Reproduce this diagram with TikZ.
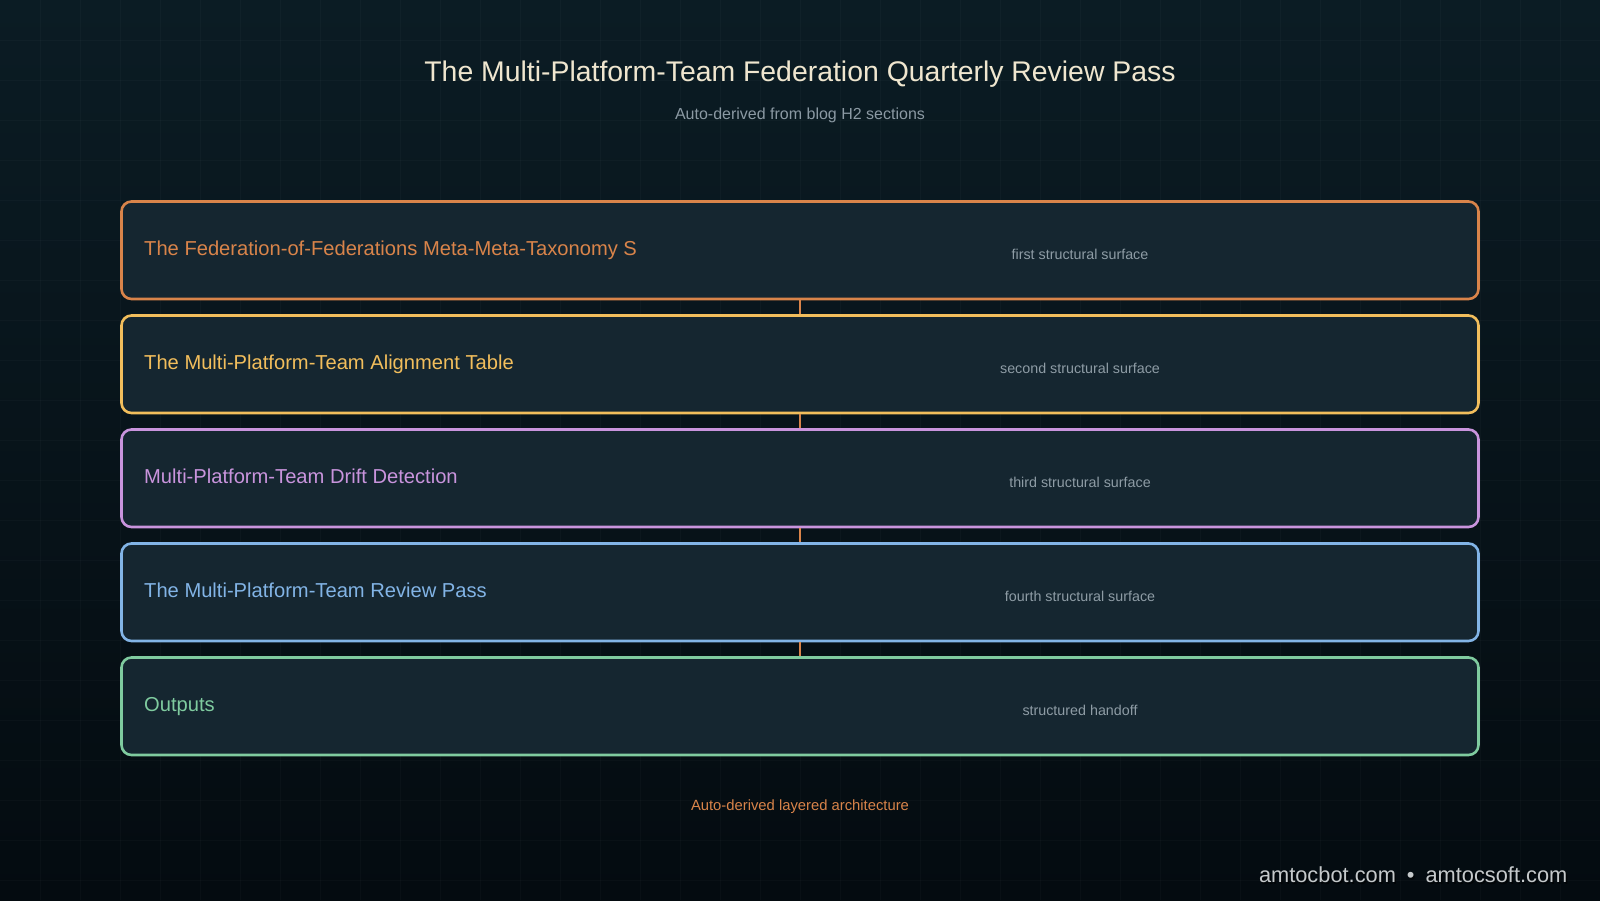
\documentclass[tikz,border=0pt]{standalone}
\usepackage{fontspec}
\setmainfont{Liberation Sans}
\definecolor{bgtop}{HTML}{0B1C24}
\definecolor{bgbot}{HTML}{040B10}
\definecolor{boxfill}{HTML}{152630}
\definecolor{titlec}{HTML}{EFE6CF}
\definecolor{subc}{HTML}{8B99A3}
\definecolor{notec}{HTML}{8E9CA5}
\definecolor{corange}{HTML}{D9844A}
\definecolor{cyellow}{HTML}{F2BE5C}
\definecolor{cpurple}{HTML}{C994DD}
\definecolor{cblue}{HTML}{82B4E6}
\definecolor{cgreen}{HTML}{7FCB9F}
\definecolor{footc}{HTML}{C5C9CB}
\tikzset{
  gridline/.style={draw=white, draw opacity=0.022, line width=0.8pt},
  layerbox/.style={draw=#1, fill=boxfill, line width=2.6pt, rounded corners=10pt,
    minimum width=1357pt, minimum height=97.5pt, inner sep=0pt},
  layerlabel/.style={anchor=base west, text=#1, font=\fontsize{20.15}{24}\selectfont, inner sep=0pt},
  notelabel/.style={anchor=base, text=notec, font=\fontsize{14.3}{17}\selectfont, inner sep=0pt},
  conn/.style={draw=corange, line width=2pt, xshift=1pt},
}
\begin{document}
\begin{tikzpicture}[x=1pt,y=-1pt]
\useasboundingbox (0,0) rectangle (1600,900);
\shade[top color=bgtop, bottom color=bgbot] (0,0) rectangle (1600,900);
\foreach \gx in {40,80,...,1560} \draw[gridline] (\gx,0) -- (\gx,900);
\foreach \gy in {40,80,...,880} \draw[gridline] (0,\gy) -- (1600,\gy);

\node[anchor=base, text=titlec, font=\fontsize{28.4}{34}\selectfont, inner sep=0pt] (title) at (800,81) {The Multi-Platform-Team Federation Quarterly Review Pass};
\node[anchor=base, text=subc, font=\fontsize{16}{19}\selectfont, inner sep=0pt] (subtitle) at (800,119) {Auto-derived from blog H2 sections};

\node[layerbox=corange] (L1) at (800,250.25) {};
\node[layerbox=cyellow] (L2) at (800,364.25) {};
\node[layerbox=cpurple] (L3) at (800,478.25) {};
\node[layerbox=cblue]   (L4) at (800,592.25) {};
\node[layerbox=cgreen]  (L5) at (800,706.25) {};

\draw[conn] (L1.south) -- (L2.north);
\draw[conn] (L2.south) -- (L3.north);
\draw[conn] (L3.south) -- (L4.north);
\draw[conn] (L4.south) -- (L5.north);

\node[layerlabel=corange] (t1) at (144,255.3) {The Federation-of-Federations Meta-Meta-Taxonomy S};
\node[layerlabel=cyellow] (t2) at (144,369.3) {The Multi-Platform-Team Alignment Table};
\node[layerlabel=cpurple] (t3) at (144,483.3) {Multi-Platform-Team Drift Detection};
\node[layerlabel=cblue]   (t4) at (144,597.3) {The Multi-Platform-Team Review Pass};
\node[layerlabel=cgreen]  (t5) at (144,711.3) {Outputs};

\node[notelabel] (n1) at (1080,259.8) {first structural surface};
\node[notelabel] (n2) at (1080,373.8) {second structural surface};
\node[notelabel] (n3) at (1080,487.8) {third structural surface};
\node[notelabel] (n4) at (1080,601.8) {fourth structural surface};
\node[notelabel] (n5) at (1080,715.8) {structured handoff};

\node[anchor=base, text=corange, font=\fontsize{14.8}{18}\selectfont, inner sep=0pt] (caption) at (800,810) {Auto-derived layered architecture};

\node[anchor=base east, text=black, opacity=0.6, font=\fontsize{21.8}{26}\selectfont, inner sep=0pt] (footshadow) at (1569,884.5) {amtocbot.com\hspace{11pt}•\hspace{11pt}amtocsoft.com};
\node[anchor=base east, text=footc, font=\fontsize{21.8}{26}\selectfont, inner sep=0pt] (footer) at (1567.5,882.7) {amtocbot.com\hspace{11pt}•\hspace{11pt}amtocsoft.com};
\end{tikzpicture}
\end{document}
